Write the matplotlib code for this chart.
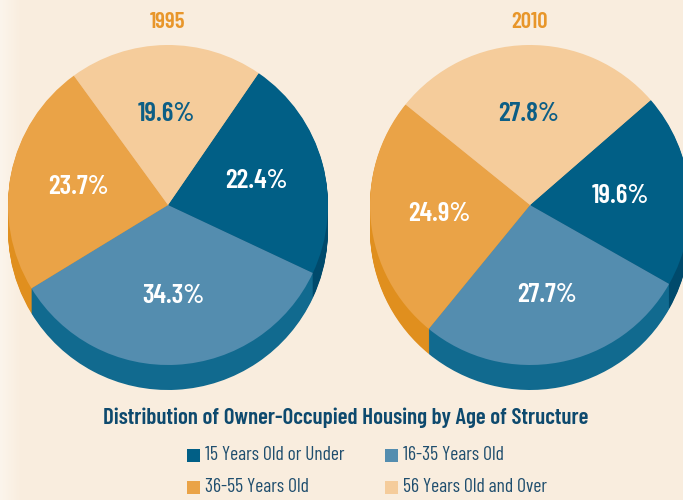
import matplotlib
matplotlib.use("Agg")
import matplotlib.pyplot as plt
import numpy as np
from matplotlib.patches import Rectangle
from matplotlib.colors import LinearSegmentedColormap

# data
categories = ["15 Years Old or Under", "16-35 Years Old", "36-55 Years Old", "56 Years Old and Over"]
years = ["1995", "2010"]
shares_1995 = [22.4, 34.3, 23.7, 19.6]
shares_2010 = [19.6, 27.7, 24.9, 27.8]

top_colors = ["#015F86", "#548DAF", "#EAA347", "#F5CC9B"]
side_colors = ["#004A6C", "#116A8F", "#E08F1E", "#E8B57A"]
label_colors = ["white", "white", "white", "#0D5E85"]
bg = "#F9EDDE"
cond = ["Barlow Condensed", "DejaVu Sans"]

fig = plt.figure(figsize=(6.83, 5.0), dpi=100, facecolor=bg)
ax = fig.add_axes([0, 0, 1, 1])
ax.set_facecolor(bg)

H = 500
R = 160
DEPTH = 25

# light fade at the left edge of the panel
fade = LinearSegmentedColormap.from_list("fade", ["#FCF5EC", bg])
ax.imshow(np.linspace(0, 1, 50)[None, :], cmap=fade, extent=(0, 22, 0, H),
          aspect="auto", zorder=0)

pies = [
    (shares_1995, (168, H - 205), 55.5),
    (shares_2010, (530, H - 205), 41.0),
]

for vals, (cx, cy), start in pies:
    # extruded side
    for k in range(DEPTH, 0, -1):
        ax.pie(vals, colors=side_colors, startangle=start, counterclock=False,
               center=(cx, cy - k), radius=R, frame=True,
               wedgeprops=dict(linewidth=0))
    wedges, texts, autotexts = ax.pie(
        vals, colors=top_colors, startangle=start, counterclock=False,
        center=(cx, cy), radius=R, frame=True, autopct="%.1f%%",
        pctdistance=0.57, wedgeprops=dict(linewidth=0))
    for t, c in zip(autotexts, label_colors):
        t.set_color(c)
        t.set_fontsize(19.5)
        t.set_fontweight(600)
        t.set_family(cond)

for yr, (vals, (cx, cy), start) in zip(years, pies):
    ax.text(cx, H - 22, yr, ha="center", va="center", color="#E8962A",
            fontsize=16.5, fontweight=600, family=cond)

ax.text(346, H - 418, "Distribution of Owner-Occupied Housing by Age of Structure",
        ha="center", va="center", color="#0E4A6E", fontsize=16.5,
        fontweight=600, family=cond)

# legend
leg_x = [187, 385]
leg_y = [455, 487]
for i, (name, col) in enumerate(zip(categories, top_colors)):
    x = leg_x[i % 2]
    y = leg_y[i // 2]
    ax.add_patch(Rectangle((x, H - y - 6.5), 13, 13, facecolor=col, edgecolor="none"))
    ax.text(x + 18, H - y, name, ha="left", va="center", color="#1F4E6E",
            fontsize=14, family=cond)

ax.set_xlim(0, 683)
ax.set_ylim(0, H)
ax.set_aspect("auto")
ax.axis("off")

fig.savefig("out.png", dpi=100, facecolor=bg)
